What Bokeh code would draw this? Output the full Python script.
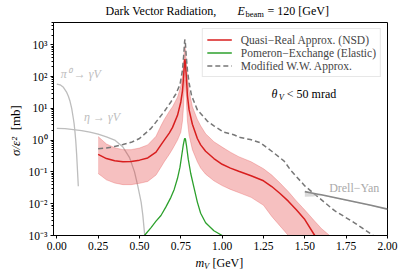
import math
from bokeh.plotting import figure
from bokeh.layouts import column, row
from bokeh.models import (FixedTicker, CustomJSTickFormatter, PrintfTickFormatter,
                          Label, Legend, LegendItem, Range1d)
from bokeh.embed import file_html
from bokeh.resources import INLINE

FONT = "Liberation Serif"

# ---------------- data (y stored as log10) ----------------
X_TICKS = [0.0, 0.25, 0.5, 0.75, 1.0, 1.25, 1.5, 1.75, 2.0]
Y_DECADES = [-3, -2, -1, 0, 1, 2, 3]

RED_X = [0.25, 0.3, 0.35, 0.4, 0.45, 0.5, 0.55, 0.6, 0.63, 0.65, 0.68, 0.7, 0.73, 0.75,
         0.76, 0.767, 0.772, 0.775, 0.778, 0.785, 0.79, 0.8, 0.82, 0.85, 0.87, 0.9, 0.95,
         1.0, 1.05, 1.1, 1.175, 1.25, 1.3, 1.35, 1.4, 1.45, 1.5, 1.56, 1.6, 1.65, 1.7]
RED_MID_LOG10 = [-0.45, -0.58, -0.65, -0.68, -0.67, -0.63, -0.56, -0.38, -0.15, 0.0, 0.22,
                 0.4, 0.78, 1.2, 1.55, 2.0, 2.45, 2.55, 2.4, 1.85, 1.4, 0.95, 0.5, 0.05,
                 -0.15, -0.35, -0.58, -0.76, -0.88, -0.98, -1.12, -1.28, -1.46, -1.68,
                 -1.92, -2.2, -2.5, -3.0, -3.3, -3.6, -3.9]
RED_HI_LOG10 = [0.11, -0.12, -0.24, -0.3, -0.3, -0.25, -0.15, 0.12, 0.45, 0.65, 0.9, 1.05,
                1.35, 1.7, 2.05, 2.5, 2.85, 2.95, 2.85, 2.35, 2.0, 1.55, 1.05, 0.65, 0.45,
                0.2, -0.05, -0.22, -0.38, -0.52, -0.68, -0.9, -1.1, -1.35, -1.62, -1.92,
                -2.2, -2.55, -2.78, -3.0, -3.3]
RED_LO_LOG10 = [-1.05, -1.25, -1.35, -1.4, -1.4, -1.36, -1.3, -1.1, -0.85, -0.68, -0.45,
                -0.28, 0.0, 0.25, 0.6, 1.1, 1.7, 1.9, 1.7, 1.1, 0.6, 0.15, -0.3, -0.68,
                -0.88, -1.07, -1.28, -1.43, -1.55, -1.65, -1.8, -2.05, -2.4, -2.7, -3.0,
                -3.3, -3.6, -3.9, -4.1, -4.3, -4.5]

GREEN_X = [0.53, 0.57, 0.6, 0.63, 0.66, 0.69, 0.71, 0.73, 0.745, 0.755, 0.765, 0.772,
           0.775, 0.778, 0.785, 0.795, 0.81, 0.83, 0.85, 0.87, 0.9, 0.95, 1.0, 1.02]
GREEN_LOG10 = [-3.0, -2.75, -2.55, -2.37, -2.1, -1.8, -1.55, -1.2, -0.85, -0.5, -0.15,
               0.03, 0.06, 0.03, -0.2, -0.6, -1.05, -1.5, -1.95, -2.3, -2.6, -2.85, -3.0,
               -3.1]

WW_X = [0.25, 0.3, 0.35, 0.4, 0.45, 0.5, 0.57, 0.65, 0.69, 0.72, 0.745, 0.76, 0.768,
        0.773, 0.775, 0.777, 0.782, 0.79, 0.8, 0.815, 0.85, 0.91, 0.95, 1.01, 1.07, 1.11,
        1.17, 1.23, 1.3, 1.375, 1.415, 1.5, 1.557, 1.68, 1.8, 1.9, 1.95]
WW_LOG10 = [-0.27, -0.25, -0.2, -0.14, -0.07, 0.05, 0.37, 0.9, 1.2, 1.45, 1.75, 2.2, 2.7,
            3.1, 3.17, 3.1, 2.7, 2.2, 1.8, 1.4, 0.95, 0.6, 0.45, 0.25, 0.17, 0.08, 0.02,
            -0.08, -0.35, -0.66, -0.95, -1.44, -1.69, -2.22, -2.6, -2.95, -3.15]

PI0_X = [0.0, 0.02, 0.04, 0.06, 0.07, 0.08, 0.09, 0.1, 0.105, 0.11, 0.115, 0.12, 0.125, 0.13]
PI0_LOG10 = [1.76, 1.74, 1.66, 1.5, 1.38, 1.22, 1.0, 0.68, 0.5, 0.25, -0.05, -0.45, -0.95, -1.45]

ETA_X = [0.0, 0.05, 0.1, 0.15, 0.2, 0.25, 0.3, 0.35, 0.4, 0.44, 0.47, 0.49, 0.51, 0.52,
         0.53, 0.535]
ETA_LOG10 = [0.37, 0.36, 0.33, 0.3, 0.25, 0.19, 0.1, 0.0, -0.22, -0.55, -1.0, -1.45, -1.95,
             -2.35, -2.9, -3.3]

DY_X = [1.5, 1.55, 1.58, 1.6, 1.7, 1.8, 1.9, 2.0]
DY_MID_LOG10 = [-1.62, -1.67, -1.7, -1.72, -1.83, -1.94, -2.05, -2.17]
DY_LO_LOG10 = [-1.78, -1.77, -1.74, -1.745, -1.85, -1.96, -2.07, -2.19]


def lin(vals):
    return [10 ** v for v in vals]


def txt(fig, x, y, text, size="12px", style="normal", color="black", xo=0, yo=0,
        align="left", angle=0.0):
    fig.add_layout(Label(x=x, y=y, x_offset=xo, y_offset=yo, text=text, text_font=FONT,
                         text_font_size=size, text_font_style=style, text_color=color,
                         text_align=align, text_baseline="middle", angle=angle))


def blank(width, height, x0, x1, ytop, ybot):
    f = figure(width=width, height=height, x_range=Range1d(x0, x1), y_range=Range1d(ybot, ytop),
               output_backend="svg", toolbar_location=None, title=None,
               x_axis_location=None, y_axis_location=None,
               min_border_left=0, min_border_right=0, min_border_top=0, min_border_bottom=0)
    f.outline_line_color = None
    f.grid.visible = False
    f.background_fill_color = "white"
    f.border_fill_color = "white"
    return f


# ---------------- main figure ----------------
p = figure(width=383, height=233, x_range=Range1d(-0.02, 2.0), y_range=Range1d(1e-3, 5e3),
           y_axis_type="log", output_backend="svg", toolbar_location=None, title=None,
           min_border_left=29, min_border_right=20, min_border_top=2, min_border_bottom=18)
p.background_fill_color = "white"
p.border_fill_color = "white"
p.outline_line_color = "black"
p.outline_line_width = 1
p.outline_line_alpha = 1
p.xgrid.visible = False
p.ygrid.visible = False

p.xaxis.ticker = FixedTicker(ticks=X_TICKS, minor_ticks=[])
p.xaxis.formatter = PrintfTickFormatter(format="%.2f")
major_y = [10.0 ** e for e in Y_DECADES]
minor_y = [k * 10.0 ** e for e in Y_DECADES for k in range(2, 10) if k * 10.0 ** e <= 5e3]
p.yaxis.ticker = FixedTicker(ticks=major_y, minor_ticks=minor_y)
p.yaxis.formatter = CustomJSTickFormatter(code="""
const e = Math.round(Math.log10(tick));
const sup = {"-": "\u207b", "0": "\u2070", "1": "\u00b9", "2": "\u00b2", "3": "\u00b3",
             "4": "\u2074", "5": "\u2075", "6": "\u2076", "7": "\u2077", "8": "\u2078", "9": "\u2079"};
return "10" + String(e).split("").map(c => sup[c]).join("");
""")
for ax in (p.xaxis, p.yaxis):
    ax.axis_line_color = "black"
    ax.major_tick_in = 0
    ax.major_tick_out = 3
    ax.minor_tick_in = 0
    ax.minor_tick_out = 2
    ax.major_tick_line_color = "black"
    ax.minor_tick_line_color = "black"
    ax.major_label_text_font = FONT
    ax.major_label_text_font_size = "11.5px"
    ax.major_label_text_color = "black"
    ax.major_label_standoff = 3

# curves
p.line(PI0_X, lin(PI0_LOG10), line_color="#bdbdbd", line_width=1.3)
p.line(ETA_X, lin(ETA_LOG10), line_color="#bdbdbd", line_width=1.3)

p.varea(x=RED_X, y1=lin(RED_LO_LOG10), y2=lin(RED_HI_LOG10), fill_color="#e23b3b", fill_alpha=0.32)
p.line(RED_X, lin(RED_HI_LOG10), line_color="#e23b3b", line_alpha=0.35, line_width=0.8)
p.line(RED_X, lin(RED_LO_LOG10), line_color="#e23b3b", line_alpha=0.35, line_width=0.8)
red = p.line(RED_X, lin(RED_MID_LOG10), line_color="#d81e1e", line_width=1.5)

green = p.line(GREEN_X, lin(GREEN_LOG10), line_color="#2ca02c", line_width=1.3)
ww = p.line(WW_X, lin(WW_LOG10), line_color="#777777", line_width=1.5, line_dash="5 3")

p.varea(x=DY_X, y1=lin(DY_LO_LOG10), y2=lin(DY_MID_LOG10), fill_color="#bbbbbb", fill_alpha=0.55)
p.line(DY_X, lin(DY_MID_LOG10), line_color="#888888", line_width=1.6)

# legend
legend = Legend(items=[
    LegendItem(label="Quasi\u2212Real Approx. (NSD)", renderers=[red]),
    LegendItem(label="Pomeron\u2212Exchange (Elastic)", renderers=[green]),
    LegendItem(label="Modified W.W. Approx.", renderers=[ww]),
], location="top_right")
legend.label_text_font = FONT
legend.label_text_font_size = "11.5px"
legend.label_height = 13
legend.glyph_height = 13
legend.glyph_width = 25
legend.label_standoff = 9
legend.padding = 4
legend.spacing = 0
legend.margin = 6
legend.border_line_color = "#d0d0d0"
legend.border_line_width = 1
legend.background_fill_alpha = 0.85
p.add_layout(legend)

# in-frame annotations (data coordinates)
txt(p, 1.299, 28.4, "\u03b8", style="italic")
txt(p, 1.343, 28.4, "V", size="8.5px", style="italic", yo=-3)
txt(p, 1.391, 28.4, "< 50 mrad")
txt(p, 0.024, 120.0, "\u03c0\u2070 \u2192 \u03b3V", style="italic", color="#bdbdbd")
txt(p, 0.165, 5.3, "\u03b7 \u2192 \u03b3V", style="italic", color="#bdbdbd")
txt(p, 1.647, 0.0311, "Drell\u2212Yan", color="#aaaaaa")

# ---------------- title strip (coordinates = picture pixels) ----------------
t = blank(407, 20, 0, 407, 0, 20)
txt(t, 105, 10, "Dark Vector Radiation,")
txt(t, 237, 10, "E", style="italic")
txt(t, 245, 13, "beam", size="8.5px")
txt(t, 267, 10, "= 120 [GeV]")

# ---------------- y-label strip ----------------
yl = blank(24, 233, 0, 24, 20, 253)
txt(yl, 15, 166.0, "\u03c3/\u03b5\u00b2", size="13px", style="italic", angle=math.pi / 2)
txt(yl, 15, 138.0, "[mb]", size="13px", angle=math.pi / 2)

# ---------------- x-label strip ----------------
xl = blank(407, 18, 0, 407, 253, 271)
txt(xl, 195, 262, "m", style="italic")
txt(xl, 203.5, 265, "V", size="8.5px", style="italic")
txt(xl, 212, 262, "[GeV]")

layout = column(t, row(yl, p, spacing=0), xl, spacing=0)
open("out.html", "w").write(file_html(layout, INLINE))
